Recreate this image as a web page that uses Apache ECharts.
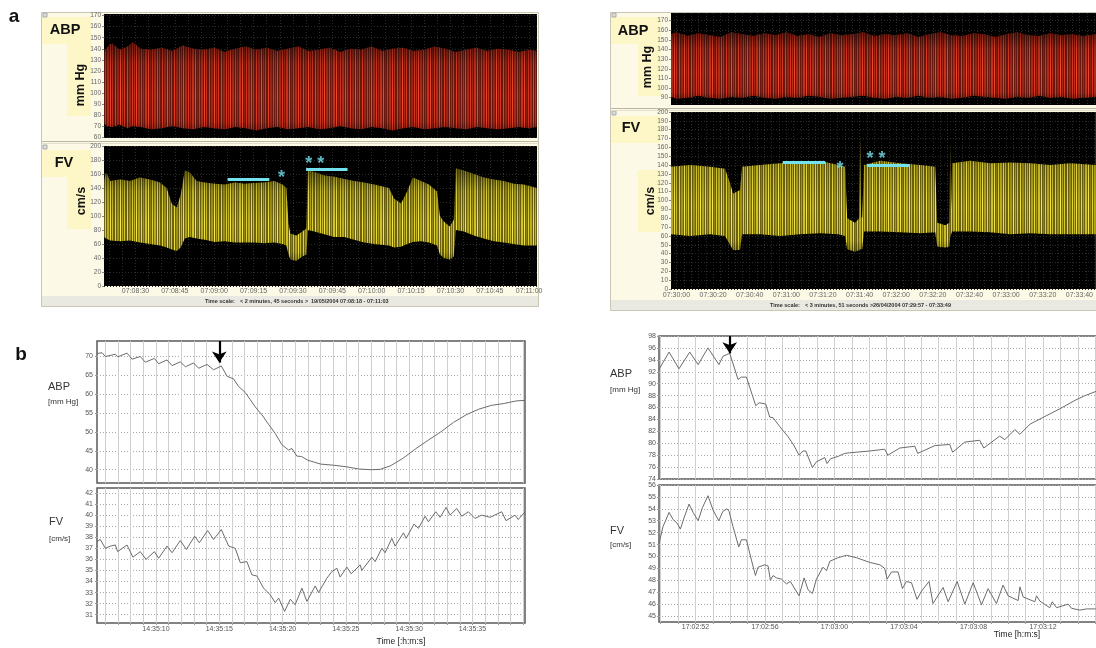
<!DOCTYPE html>
<html>
<head>
<meta charset="utf-8">
<script src="https://cdn.jsdelivr.net/npm/echarts@6/dist/echarts.min.js"></script>
<style>
html, body { margin: 0; padding: 0; background: #fff; }
#c { width: 1096px; height: 648px; }
</style>
</head>
<body>
<div id="c"></div>
<script>
// ---------- Panel a, left recording (seconds after 07:08:00) ----------
const abpLTime = [18, 19, 21, 24, 27, 29, 32, 36, 40, 44, 48, 52, 56, 60, 64, 68, 72, 76, 80, 84, 88, 92, 96, 100, 104, 108, 112, 116, 120, 124, 128, 132, 136, 140, 144, 148, 152, 156, 160, 164, 168, 172, 176, 180, 183];
const abpLHigh = [137, 141, 145, 139, 142, 146, 140, 139, 141, 138, 143, 140, 139, 141, 137, 140, 142, 139, 141, 138, 140, 142, 138, 139, 141, 137, 140, 139, 142, 138, 140, 141, 138, 139, 142, 140, 137, 139, 141, 138, 140, 139, 137, 139, 138];
const abpLLow = [72, 70, 69, 71, 68, 70, 69, 67, 68, 70, 68, 67, 69, 68, 67, 69, 68, 66, 68, 69, 67, 68, 69, 67, 68, 70, 68, 67, 69, 68, 66, 68, 69, 67, 68, 69, 68, 67, 69, 68, 67, 68, 69, 68, 69];

const fvLTime = [18, 18.8, 20.3, 24.1, 27.9, 31.7, 35.5, 39.3, 41.9, 43.8, 45.7, 47.2, 48.8, 50.7, 53.3, 56.4, 60.2, 64.0, 67.8, 71.6, 75.3, 79.1, 82.9, 86.0, 87.5, 88.3, 89.0, 91.3, 93.6, 95.1, 95.7, 98.1, 101.9, 105.7, 109.5, 113.3, 117.1, 120.9, 126.6, 128.5, 131.2, 133.5, 135.7, 138.8, 141.8, 144.9, 146.0, 147.5, 149.8, 151.3, 152.1, 155.1, 158.9, 162.7, 166.5, 170.3, 174.1, 177.9, 183];
const fvLHigh = [150, 162, 150, 152, 150, 155, 152, 148, 140, 118, 112, 130, 165, 162, 150, 148, 146, 145, 148, 146, 147, 148, 150, 145, 140, 90, 75, 72, 78, 82, 165, 163, 158, 156, 153, 150, 148, 145, 140, 125, 118, 135, 155, 150, 145, 135, 100, 92, 85, 95, 168, 165, 160, 155, 152, 150, 146, 145, 140];
const fvLLow = [70, 68, 65, 64, 65, 62, 60, 58, 55, 52, 50, 55, 68, 70, 68, 66, 63, 64, 62, 62, 62, 61, 62, 60, 58, 45, 38, 36, 42, 45, 80, 78, 74, 70, 70, 66, 62, 60, 58, 55, 56, 60, 63, 64, 62, 58, 45, 40, 38, 42, 80, 78, 72, 68, 64, 62, 60, 58, 58];

// cyan bars [start, end, level] and asterisks [time, level, text]
const fvLBars = [[65.1, 81.0, 152], [95.0, 110.8, 167]];
const fvLStars = [[85.6, 160, '*'], [98.3, 180, '* *']];

// ---------- Panel a, right recording (seconds after 07:29:00) ----------
const abpRTime = [57, 60, 66, 72, 78, 84, 90, 96, 102, 108, 114, 120, 126, 132, 138, 144, 150, 156, 162, 168, 174, 180, 186, 192, 198, 204, 210, 216, 222, 228, 234, 240, 246, 252, 258, 264, 270, 276, 282, 289];
const abpRHigh = [156, 158, 154, 157, 155, 153, 158, 156, 154, 157, 155, 158, 154, 156, 153, 157, 155, 156, 158, 154, 156, 155, 157, 153, 156, 158, 155, 154, 157, 156, 153, 156, 158, 155, 154, 157, 155, 156, 154, 156];
const abpRLow = [91, 89, 90, 92, 90, 89, 91, 90, 92, 90, 89, 91, 90, 92, 91, 89, 90, 91, 92, 90, 89, 91, 90, 92, 90, 91, 89, 90, 92, 91, 90, 89, 91, 90, 92, 90, 91, 89, 90, 91];

const fvRTime = [57, 67.4, 78.3, 86.5, 89.2, 90.9, 94.7, 95.8, 105.6, 116.6, 127.5, 138.4, 148.3, 152.1, 153.2, 157.5, 159.8, 160.3, 160.8, 161.4, 162.4, 171.2, 182.1, 193.1, 201.3, 202.4, 206.8, 209.0, 209.5, 210.0, 210.5, 220.4, 231.3, 242.2, 253.2, 264.1, 275.0, 289];
const fvRHigh = [138, 140, 138, 136, 120, 108, 112, 138, 140, 142, 143, 145, 140, 138, 80, 75, 80, 172, 82, 80, 140, 145, 142, 140, 138, 75, 72, 75, 166, 90, 142, 145, 142, 143, 142, 140, 142, 140];
const fvRLow = [62, 60, 62, 60, 50, 44, 44, 62, 62, 60, 62, 63, 62, 60, 45, 42, 44, 45, 45, 45, 65, 65, 64, 63, 64, 48, 47, 48, 60, 62, 65, 65, 64, 62, 63, 62, 62, 62];

const fvRBars = [[118.0, 141.2, 142.7], [163.9, 187.1, 139.6]];
const fvRStars = [[149.3, 140, '*'], [169.0, 151, '* *']];

// ---------- Panel b, left trace (seconds after 14:35:00) ----------
const bLAbpTime = [5.34, 5.74, 6.0, 6.79, 6.97, 7.71, 8.11, 8.76, 9.16, 9.87, 10.21, 10.87, 11.27, 11.92, 12.32, 12.97, 13.37, 14.03, 14.55, 15.16, 15.61, 16.13, 16.52, 17.05, 17.45, 17.84, 18.37, 18.89, 19.42, 19.95, 20.47, 20.74, 21.13, 21.5, 22.0, 22.5, 23.0, 24.0, 25.0, 26.0, 27.0, 27.7, 28.5, 29.5, 30.5, 31.5, 32.5, 33.5, 34.5, 35.5, 36.5, 37.5, 38.5, 39.15];
const bLAbpVal = [70.7, 70.9, 69.9, 70.5, 69.8, 70.8, 69.2, 69.9, 68.4, 69.4, 68.0, 69.0, 67.5, 68.5, 67.2, 68.2, 66.8, 67.8, 66.4, 67.4, 64.7, 64.0, 62.0, 60.4, 58.5, 56.6, 54.5, 52.0, 49.6, 46.6, 45.2, 45.6, 43.6, 43.5, 42.5, 42.0, 41.5, 41.2, 40.8, 40.2, 40.0, 40.1, 41.0, 43.0, 45.5, 47.8, 50.0, 52.5, 54.5, 56.0, 57.0, 57.5, 58.2, 58.3];
const bLArrow = [15.0, 68.3];

const bLFvTime = [5.34, 5.60, 6.0, 6.39, 6.79, 6.97, 7.71, 8.18, 8.76, 9.21, 9.87, 10.21, 10.87, 11.27, 11.92, 12.40, 13.06, 13.42, 14.08, 14.55, 15.16, 15.74, 16.26, 16.66, 17.18, 17.58, 17.97, 18.50, 19.02, 19.42, 19.69, 20.16, 20.61, 20.99, 21.53, 21.92, 22.58, 22.84, 23.50, 23.90, 24.29, 24.55, 25.08, 25.42, 26.13, 26.26, 27.05, 27.31, 27.84, 28.10, 28.63, 28.89, 29.55, 29.76, 30.39, 30.73, 31.26, 31.52, 32.10, 32.44, 32.92, 33.23, 33.76, 34.15, 34.68, 35.20, 35.73, 36.39, 37.31, 37.65, 38.36, 38.62, 39.15];
const bLFvVal = [37.6, 37.8, 37.0, 37.2, 37.3, 36.7, 37.3, 36.2, 36.7, 36.0, 36.7, 36.1, 37.2, 36.6, 37.7, 36.9, 38.1, 37.5, 38.6, 37.8, 38.7, 37.2, 37.0, 35.7, 35.8, 34.6, 34.5, 33.4, 32.8, 32.1, 32.5, 31.3, 32.4, 31.9, 33.4, 32.2, 33.6, 33.0, 34.3, 34.9, 35.2, 34.4, 35.3, 34.7, 35.5, 35.0, 36.2, 35.8, 37.0, 36.6, 37.9, 37.2, 38.4, 37.9, 39.2, 38.8, 39.9, 39.4, 40.3, 39.8, 40.7, 40.0, 40.6, 39.9, 40.3, 39.7, 40.0, 39.8, 40.3, 39.5, 40.0, 39.6, 40.3];

// ---------- Panel b, right trace (seconds after 17:02:00) ----------
const bRAbpTime = [49.90, 50.48, 51.05, 51.67, 52.15, 52.72, 53.35, 53.58, 53.97, 54.45, 54.64, 54.93, 55.47, 55.66, 56.04, 56.27, 56.46, 56.85, 57.33, 57.65, 57.96, 58.19, 58.35, 58.73, 58.96, 59.44, 59.57, 59.77, 60.21, 60.59, 60.88, 62.03, 62.89, 63.07, 63.76, 64.62, 64.79, 65.77, 66.63, 66.80, 67.5, 68.36, 68.59, 69.51, 69.8, 70.38, 70.67, 71.25, 72.11, 72.98, 73.84, 74.42, 75.05];
const bRAbpVal = [92.4, 95.3, 92.5, 95.3, 93.2, 96.0, 93.2, 94.6, 95.1, 90.7, 91.1, 91.1, 86.3, 86.8, 86.6, 84.4, 84.3, 82.8, 81.1, 79.7, 78.0, 78.7, 78.7, 75.9, 76.9, 77.6, 76.6, 77.4, 77.8, 78.3, 78.4, 78.7, 79.0, 78.0, 79.2, 79.5, 78.3, 79.6, 79.8, 78.5, 80.2, 80.5, 79.2, 81.2, 80.6, 82.3, 81.5, 83.2, 84.5, 85.8, 87.2, 88.0, 88.7];
const bRArrow = [53.97, 95.1];

const bRFvTime = [49.90, 50.13, 50.48, 50.71, 50.94, 51.13, 51.38, 51.63, 51.86, 52.15, 52.40, 52.72, 53.01, 53.34, 53.58, 53.81, 53.93, 54.16, 54.49, 54.64, 54.93, 55.22, 55.45, 55.60, 55.99, 56.18, 56.31, 56.46, 56.66, 56.95, 57.23, 57.46, 57.96, 58.25, 58.48, 58.73, 58.96, 59.34, 59.54, 59.73, 60.21, 60.69, 61.26, 62.03, 62.61, 62.89, 63.03, 63.28, 63.66, 63.91, 64.14, 64.43, 64.75, 65.01, 65.44, 65.67, 66.25, 66.54, 67.06, 67.50, 67.98, 68.46, 68.84, 69.32, 69.70, 69.99, 70.57, 70.67, 70.86, 71.53, 71.63, 71.82, 72.39, 72.53, 72.78, 73.45, 73.64, 74.12, 74.51, 75.04];
const bRFvVal = [51.1, 52.5, 53.7, 53.1, 52.8, 52.3, 53.4, 54.4, 53.7, 53.0, 54.1, 55.1, 53.9, 53.0, 53.8, 54.0, 53.8, 52.5, 50.8, 51.4, 51.4, 49.7, 48.4, 49.1, 49.3, 49.2, 48.0, 48.4, 48.2, 48.1, 47.7, 47.9, 46.7, 48.2, 47.2, 46.9, 48.1, 49.1, 48.8, 49.6, 49.9, 50.1, 49.9, 49.5, 49.3, 49.0, 48.1, 48.7, 48.7, 47.3, 47.9, 47.8, 46.4, 47.1, 47.9, 46.05, 47.4, 46.2, 47.9, 46.0, 47.8, 45.95, 47.3, 46.05, 47.6, 46.7, 46.3, 47.45, 46.6, 46.2, 46.7, 46.25, 45.7, 46.2, 45.7, 46.0, 45.65, 45.5, 45.6, 45.6];

// ---------- helpers ----------
const pad = n => String(n).padStart(2, '0');
function clock(h, m, s) {
  const tot = h * 3600 + m * 60 + Math.round(s);
  return pad(Math.floor(tot / 3600)) + ':' + pad(Math.floor((tot % 3600) / 60)) + ':' + pad(tot % 60);
}
function steps(a, b, step) {
  const r = [];
  for (let v = a; v <= b + 1e-9; v += step) r.push(+v.toFixed(4));
  return r;
}
const SANS = '"Liberation Sans", Arial, sans-serif';

// irregular vertical stroke texture standing in for densely packed beats
function stripes(base, list) {
  const c = document.createElement('canvas');
  c.width = 47; c.height = 8;
  const g = c.getContext('2d');
  g.fillStyle = base; g.fillRect(0, 0, 47, 8);
  list.forEach(([x, w, col]) => { g.fillStyle = col; g.fillRect(x, 0, w, 8); });
  return c;
}
const redFill = stripes('#6e180e', [
  [0, 1, '#e03a20'], [2, 1, '#a82818'], [4, 2, '#c8321c'], [7, 1, '#f0482a'], [9, 1, '#8e2214'],
  [11, 1, '#d63620'], [13, 2, '#b42c1a'], [16, 1, '#ec4428'], [18, 1, '#c4301c'], [21, 1, '#e23c22'],
  [23, 2, '#a02616'], [26, 1, '#f24e2e'], [28, 1, '#b22a18'], [30, 1, '#d8381f'], [33, 1, '#e84026'],
  [35, 2, '#9c2616'], [38, 1, '#dc3a20'], [40, 1, '#c0301c'], [42, 1, '#f0482a'], [44, 2, '#ac2a18']
]);
const yellowFill = stripes('#6f6510', [
  [0, 1, '#ece034'], [2, 1, '#a89c1a'], [4, 2, '#d2c426'], [7, 1, '#f6ea4e'], [9, 1, '#918616'],
  [11, 1, '#e2d42c'], [13, 2, '#bcae20'], [16, 1, '#f2e644'], [18, 1, '#ccbe24'], [21, 1, '#e8dc32'],
  [23, 2, '#a49818'], [26, 1, '#f8ee58'], [28, 1, '#b8aa1e'], [30, 1, '#dccf2a'], [33, 1, '#eee23a'],
  [35, 2, '#9e9218'], [38, 1, '#e2d52e'], [40, 1, '#c6b822'], [42, 1, '#f4e84a'], [44, 2, '#b0a41c']
]);

const shade = {
  type: 'linear', x: 0, y: 0, x2: 0, y2: 1,
  colorStops: [
    { offset: 0, color: 'rgba(0,0,0,0.5)' },
    { offset: 0.25, color: 'rgba(0,0,0,0.12)' },
    { offset: 0.6, color: 'rgba(0,0,0,0)' },
    { offset: 0.9, color: 'rgba(0,0,0,0.05)' },
    { offset: 1, color: 'rgba(0,0,0,0.3)' }
  ]
};

// envelope band (diastolic floor to systolic ceiling) as one polygon through the axis scales
function band(idx, time, low, high, fill) {
  return {
    type: 'custom', xAxisIndex: idx, yAxisIndex: idx, silent: true, clip: true, z: 2,
    data: [[time[0], low[0]]],
    renderItem: (params, api) => {
      const pts = [];
      for (let i = 0; i < time.length; i++) pts.push(api.coord([time[i], high[i]]));
      for (let i = time.length - 1; i >= 0; i--) pts.push(api.coord([time[i], low[i]]));
      return {
        type: 'group',
        children: [
          { type: 'polygon', shape: { points: pts }, style: { fill: { image: fill, repeat: 'repeat' } } },
          { type: 'polygon', shape: { points: pts }, style: { fill: shade } }
        ]
      };
    }
  };
}

function marks(idx, bars, stars) {
  return {
    type: 'scatter', xAxisIndex: idx, yAxisIndex: idx, symbolSize: 0, silent: true, z: 5,
    data: stars.map(s => ({ value: [s[0], s[1]], name: s[2] })),
    label: { show: true, position: 'inside', formatter: p => p.name, color: '#74e2ec', fontSize: 18, fontWeight: 'bold', fontFamily: SANS, offset: [0, 4] },
    markLine: {
      silent: true, symbol: ['none', 'none'], label: { show: false },
      lineStyle: { color: '#74e2ec', width: 3, type: 'solid' },
      data: bars.map(b => [{ coord: [b[0], b[2]] }, { coord: [b[1], b[2]] }])
    }
  };
}

function trace(idx, time, vals, arrow, top) {
  const s = {
    type: 'line', xAxisIndex: idx, yAxisIndex: idx, symbol: 'none', silent: true,
    data: time.map((t, i) => [t, vals[i]]),
    lineStyle: { color: '#6c6c6c', width: 1 }
  };
  if (arrow) {
    s.markLine = {
      silent: true, symbol: ['none', 'arrow'], symbolSize: 11, label: { show: false },
      lineStyle: { color: '#000', width: 2.2, type: 'solid' },
      data: [[{ coord: [arrow[0], top] }, { coord: [arrow[0], arrow[1]] }]]
    };
  }
  return s;
}

// ---------- axes ----------
const darkSplit = { show: true, lineStyle: { color: '#2c2c2c', type: [1, 2], width: 1 } };
function aX(grid, min, max, h, m, labelVals, gridVals, showLabels, margin) {
  return {
    type: 'value', gridIndex: grid, min, max,
    axisLine: { show: false },
    axisTick: { show: false, customValues: gridVals },
    splitLine: darkSplit,
    axisLabel: { show: showLabels, customValues: labelVals, formatter: v => clock(h, m, v), color: '#666', fontSize: 7, fontFamily: SANS, margin }
  };
}
function aY(grid, min, max, vals) {
  return {
    type: 'value', gridIndex: grid, min, max,
    axisLine: { show: false },
    axisTick: { show: true, length: 2, customValues: vals, lineStyle: { color: '#888' } },
    splitLine: darkSplit,
    axisLabel: { customValues: vals, color: '#666', fontSize: 6.5, fontFamily: SANS, margin: 3 }
  };
}
function bX(grid, min, max, h, m, labelVals, gridVals, showLabels, margin) {
  return {
    type: 'value', gridIndex: grid, min, max,
    axisLine: { show: false },
    axisTick: { show: showLabels, length: 2, customValues: gridVals, lineStyle: { color: '#999' } },
    splitLine: { show: true, lineStyle: { color: '#cfcfcf', width: 1 } },
    axisLabel: { show: showLabels, customValues: labelVals, formatter: v => clock(h, m, v), color: '#555', fontSize: 7, fontFamily: SANS, margin }
  };
}
function bY(grid, min, max, vals, margin) {
  return {
    type: 'value', gridIndex: grid, min, max,
    axisLine: { show: false },
    axisTick: { show: true, length: 2, customValues: vals, lineStyle: { color: '#999' } },
    splitLine: { show: true, lineStyle: { color: '#a8a8a8', type: [1, 2], width: 1 } },
    axisLabel: { customValues: vals, color: '#555', fontSize: 7, fontFamily: SANS, margin }
  };
}

const blackGrid = { show: true, backgroundColor: '#000', borderWidth: 0 };
const whiteGrid = { show: true, backgroundColor: '#fff', borderColor: '#5a5a5a', borderWidth: 1.5 };

// ---------- frame decoration ----------
function txt(x, y, text, font, fill, align, rot) {
  return {
    type: 'text', x, y, rotation: rot || 0, z: 50, silent: true,
    style: { text, font, fill: fill || '#111', align: align || 'center', verticalAlign: 'middle' }
  };
}
function box(x, y, w, h, fill, stroke, z) {
  return { type: 'rect', z: z === undefined ? -5 : z, silent: true, shape: { x, y, width: w, height: h }, style: { fill, stroke: stroke || null, lineWidth: 1 } };
}
function hline(x1, x2, y, color) {
  return { type: 'line', z: -4, silent: true, shape: { x1, y1: y, x2, y2: y }, style: { stroke: color, lineWidth: 1 } };
}
const cream = '#fcfae6', tag = '#fdf6c6';
const bold14 = 'bold 14.5px ' + SANS, bold12 = 'bold 12.5px ' + SANS, tiny = 'bold 5.5px ' + SANS;

const graphics = [
  // left monitor window
  box(41.5, 12.5, 497, 294, cream, '#c9c7b4', -10),
  box(42, 17, 49, 27, tag), box(67, 44, 24, 72, tag),
  box(42, 150, 49, 27, tag), box(67, 177, 24, 52, tag),
  hline(42, 538, 141.5, '#b9b7a4'), hline(42, 538, 143.5, '#e2e0cc'),
  box(42, 296, 496, 10, '#e9e8e1'),
  box(43, 13, 4, 4, '#dcdcdc', '#aaa'), box(43, 145, 4, 4, '#dcdcdc', '#aaa'),
  txt(65, 30, 'ABP', bold14), txt(81, 85, 'mm Hg', bold12, '#111', 'center', Math.PI / 2),
  txt(64, 163, 'FV', bold14), txt(82, 201, 'cm/s', bold12, '#111', 'center', Math.PI / 2),
  txt(205, 301.5, 'Time scale:', tiny, '#333', 'left'),
  txt(240, 301.5, '< 2 minutes, 45 seconds >', tiny, '#333', 'left'),
  txt(311, 301.5, '19/05/2004 07:08:18 - 07:11:03', tiny, '#333', 'left'),
  // right monitor window
  box(610.5, 12.5, 490, 298, cream, '#c9c7b4', -10),
  box(611, 17, 50, 27, tag), box(638, 44, 23, 52, tag),
  box(611, 116, 50, 27, tag), box(638, 170, 23, 62, tag),
  hline(611, 1096, 108.5, '#b9b7a4'), hline(611, 1096, 110.5, '#e2e0cc'),
  box(611, 300, 485, 10, '#e9e8e1'),
  box(612, 13, 4, 4, '#dcdcdc', '#aaa'), box(612, 111, 4, 4, '#dcdcdc', '#aaa'),
  txt(633, 31, 'ABP', bold14), txt(648, 67, 'mm Hg', bold12, '#111', 'center', Math.PI / 2),
  txt(631, 128, 'FV', bold14), txt(651, 201, 'cm/s', bold12, '#111', 'center', Math.PI / 2),
  txt(770, 305.5, 'Time scale:', tiny, '#333', 'left'),
  txt(805, 305.5, '< 3 minutes, 51 seconds >', tiny, '#333', 'left'),
  txt(873, 305.5, '26/04/2004 07:29:57 - 07:33:49', tiny, '#333', 'left'),
  // panel letters
  txt(14, 17, 'a', 'bold 19px ' + SANS),
  txt(21, 355, 'b', 'bold 19px ' + SANS),
  // panel b captions
  txt(48, 387, 'ABP', '11px ' + SANS, '#333', 'left'),
  txt(48, 402, '[mm Hg]', '8px ' + SANS, '#333', 'left'),
  txt(49, 522, 'FV', '11px ' + SANS, '#333', 'left'),
  txt(49, 539, '[cm/s]', '8px ' + SANS, '#333', 'left'),
  txt(401, 642, 'Time [:h:m:s]', '8.5px ' + SANS, '#222'),
  txt(610, 374, 'ABP', '11px ' + SANS, '#333', 'left'),
  txt(610, 390, '[mm Hg]', '8px ' + SANS, '#333', 'left'),
  txt(610, 531, 'FV', '11px ' + SANS, '#333', 'left'),
  txt(610, 545, '[cm/s]', '8px ' + SANS, '#333', 'left'),
  txt(1017, 635, 'Time [h:m:s]', '8.5px ' + SANS, '#222')
];

const chart = echarts.init(document.getElementById('c'), null, { renderer: 'canvas', width: 1096, height: 648 });
chart.setOption({
  animation: false,
  backgroundColor: '#fff',
  grid: [
    Object.assign({ left: 104, top: 14, width: 433, height: 124 }, blackGrid),
    Object.assign({ left: 104, top: 146, width: 433, height: 140 }, blackGrid),
    Object.assign({ left: 671, top: 13, width: 425, height: 92 }, blackGrid),
    Object.assign({ left: 671, top: 112, width: 425, height: 177 }, blackGrid),
    Object.assign({ left: 97, top: 341, width: 428, height: 142 }, whiteGrid),
    Object.assign({ left: 97, top: 488, width: 428, height: 135 }, whiteGrid),
    Object.assign({ left: 659, top: 336, width: 438, height: 143 }, whiteGrid),
    Object.assign({ left: 659, top: 485, width: 438, height: 137 }, whiteGrid)
  ],
  xAxis: [
    aX(0, 18, 183, 7, 8, steps(30, 180, 15), steps(20, 180, 5), false, 2),
    aX(1, 18, 183, 7, 8, steps(30, 180, 15), steps(20, 180, 5), true, 2),
    aX(2, 57, 289, 7, 29, steps(60, 280, 20), steps(60, 288, 4), false, 3),
    aX(3, 57, 289, 7, 29, steps(60, 280, 20), steps(60, 288, 4), true, 3),
    bX(4, 5.34, 39.15, 14, 35, steps(10, 35, 5), steps(6, 39, 1), false, 3),
    bX(5, 5.34, 39.15, 14, 35, steps(10, 35, 5), steps(6, 39, 1), true, 3),
    bX(6, 49.9, 75.05, 17, 2, steps(52, 72, 4), steps(50, 75, 1), false, 2),
    bX(7, 49.9, 75.05, 17, 2, steps(52, 72, 4), steps(50, 75, 1), true, 2)
  ],
  yAxis: [
    aY(0, 59.1, 171.5, steps(60, 170, 10)),
    aY(1, 0, 200, steps(0, 200, 20)),
    aY(2, 82.4, 178, steps(90, 170, 10)),
    aY(3, 0, 200, steps(0, 200, 10)),
    bY(4, 36.5, 74, steps(40, 70, 5), 4),
    bY(5, 30.25, 42.45, steps(31, 42, 1), 4),
    bY(6, 74, 98, steps(74, 98, 2), 3),
    bY(7, 44.5, 56, steps(45, 56, 1), 3)
  ],
  graphic: graphics,
  series: [
    band(0, abpLTime, abpLLow, abpLHigh, redFill),
    band(1, fvLTime, fvLLow, fvLHigh, yellowFill),
    band(2, abpRTime, abpRLow, abpRHigh, redFill),
    band(3, fvRTime, fvRLow, fvRHigh, yellowFill),
    marks(1, fvLBars, fvLStars),
    marks(3, fvRBars, fvRStars),
    trace(4, bLAbpTime, bLAbpVal, bLArrow, 74),
    trace(5, bLFvTime, bLFvVal, null),
    trace(6, bRAbpTime, bRAbpVal, bRArrow, 98),
    trace(7, bRFvTime, bRFvVal, null)
  ]
});
</script>
</body>
</html>
